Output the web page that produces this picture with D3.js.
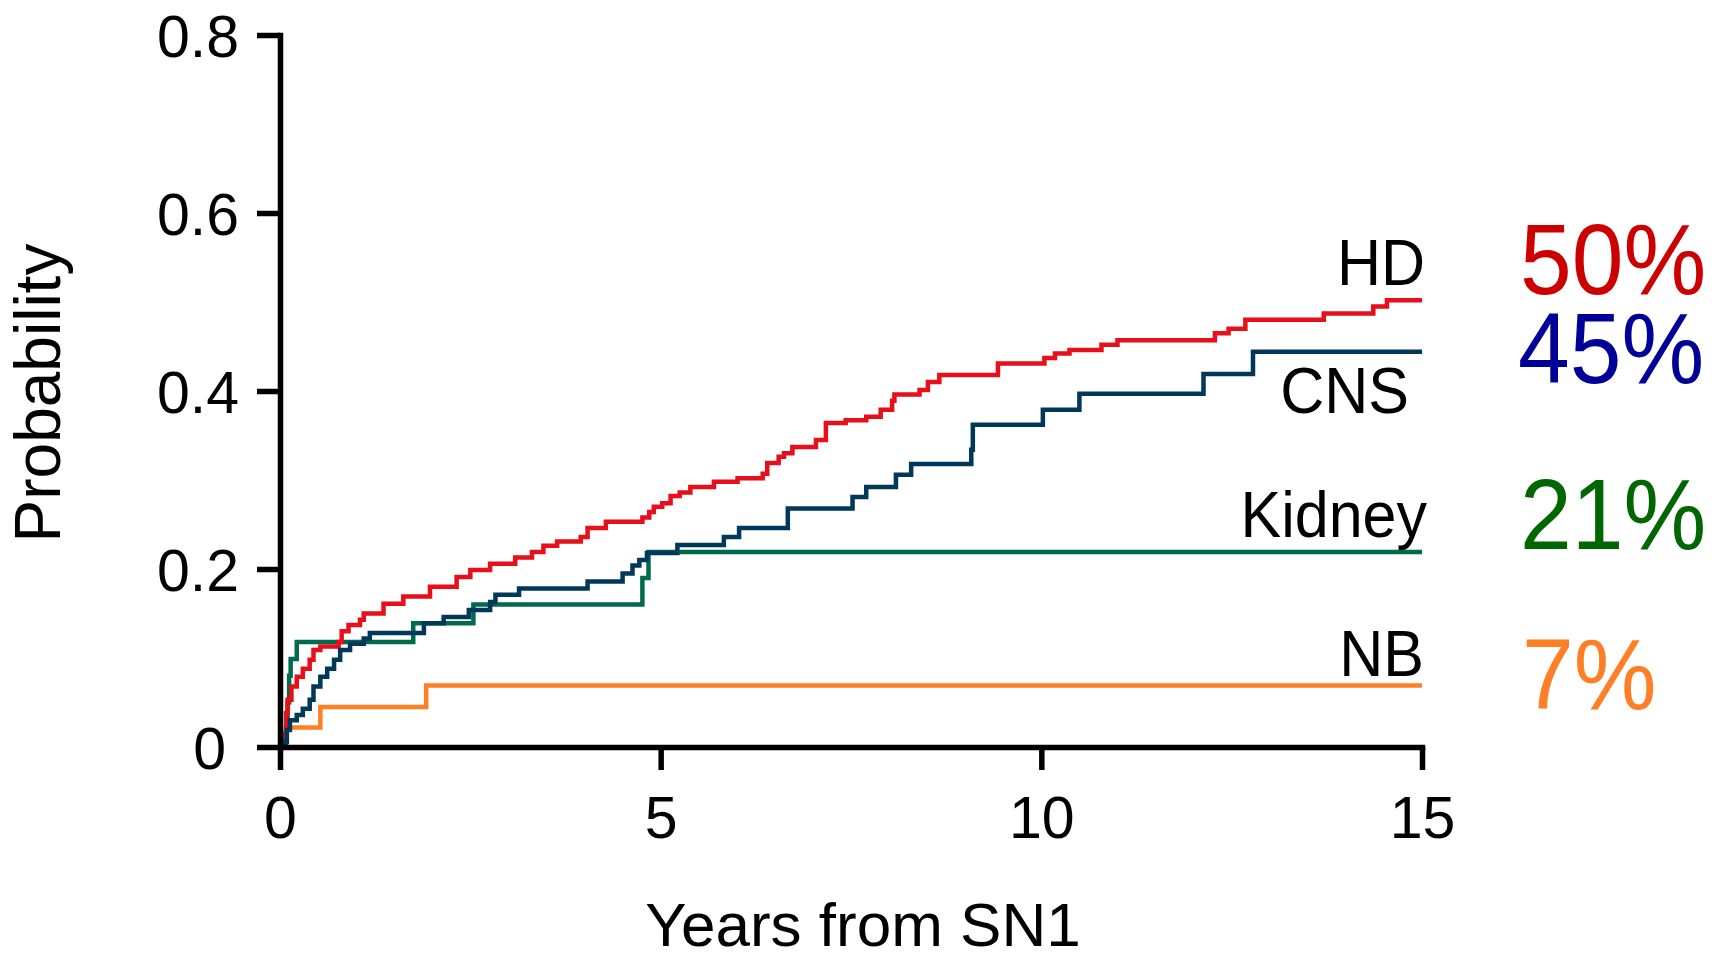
<!DOCTYPE html>
<html>
<head>
<meta charset="utf-8">
<script src="https://cdn.jsdelivr.net/npm/d3@7"></script>
<style>
  html, body { margin: 0; padding: 0; background: #fff; }
  svg { display: block; }
  text { font-family: "Liberation Sans", Arial, Helvetica, sans-serif; }
</style>
</head>
<body>
<svg id="chart" width="1726" height="955"></svg>
<script>
// ---- Data ----
const seriesNames = ["HD", "CNS", "Kidney", "NB"];
const finalLabels = ["50%", "45%", "21%", "7%"];

const hdTimes = [0, 0.06, 0.08, 0.10, 0.15, 0.22, 0.30, 0.39, 0.44, 0.53, 0.77, 0.81, 0.90, 1.05, 1.10, 1.36, 1.62, 1.97, 2.32, 2.50, 2.76, 3.09, 3.31, 3.46, 3.64, 3.95, 4.04, 4.28, 4.76, 4.85, 4.91, 5.02, 5.13, 5.25, 5.39, 5.70, 6.01, 6.34, 6.40, 6.55, 6.62, 6.73, 7.04, 7.17, 7.43, 7.70, 7.89, 8.04, 8.07, 8.40, 8.51, 8.66, 9.43, 10.04, 10.18, 10.37, 10.79, 11.00, 12.28, 12.46, 12.68, 13.71, 14.36, 14.54, 15];
const hdProbs = [0, 0.015, 0.038, 0.053, 0.068, 0.079, 0.088, 0.098, 0.109, 0.113, 0.118, 0.130, 0.137, 0.143, 0.150, 0.161, 0.169, 0.180, 0.191, 0.199, 0.206, 0.213, 0.219, 0.226, 0.231, 0.236, 0.246, 0.253, 0.258, 0.264, 0.270, 0.274, 0.282, 0.286, 0.292, 0.298, 0.302, 0.307, 0.319, 0.326, 0.330, 0.337, 0.345, 0.364, 0.367, 0.371, 0.379, 0.389, 0.396, 0.401, 0.410, 0.418, 0.431, 0.437, 0.442, 0.446, 0.452, 0.457, 0.465, 0.470, 0.480, 0.487, 0.495, 0.502, 0.502];

const cnsTimes = [0, 0.07, 0.09, 0.13, 0.22, 0.30, 0.39, 0.44, 0.53, 0.62, 0.71, 0.79, 0.92, 1.10, 1.18, 1.89, 2.15, 2.48, 2.76, 2.83, 3.14, 4.04, 4.50, 4.63, 4.72, 4.82, 5.22, 5.83, 6.03, 6.67, 7.52, 7.70, 8.09, 8.29, 9.08, 9.10, 10.02, 10.50, 12.13, 12.78, 15];
const cnsProbs = [0, 0.006, 0.019, 0.030, 0.036, 0.043, 0.053, 0.068, 0.079, 0.088, 0.098, 0.109, 0.116, 0.122, 0.128, 0.139, 0.146, 0.154, 0.163, 0.171, 0.178, 0.186, 0.195, 0.204, 0.210, 0.218, 0.227, 0.236, 0.246, 0.268, 0.281, 0.292, 0.306, 0.318, 0.334, 0.362, 0.379, 0.397, 0.419, 0.444, 0.444];

const kidneyTimes = [0, 0.08, 0.10, 0.12, 0.14, 0.22, 1.75, 2.54, 4.76, 4.84, 15];
const kidneyProbs = [0, 0.020, 0.050, 0.080, 0.099, 0.118, 0.139, 0.160, 0.190, 0.219, 0.219];

const nbTimes = [0, 0.08, 0.53, 1.92, 15];
const nbProbs = [0, 0.022, 0.045, 0.069, 0.069];

const xTicks = [0, 5, 10, 15];
const yTicks = [0, 0.2, 0.4, 0.6, 0.8];

// ---- Styles ----
const lineColors = { HD: "#e60f1a", CNS: "#003859", Kidney: "#006a4e", NB: "#ff7f24" };
const pctColors  = { HD: "#cc0000", CNS: "#000099", Kidney: "#006600", NB: "#ff7f27" };

const series = [
  { name: "NB", t: nbTimes, p: nbProbs },
  { name: "Kidney", t: kidneyTimes, p: kidneyProbs },
  { name: "HD", t: hdTimes, p: hdProbs },
  { name: "CNS", t: cnsTimes, p: cnsProbs }
];

const svg = d3.select("#chart");
const x = d3.scaleLinear().domain([0, 15]).range([280, 1422]);
const y = d3.scaleLinear().domain([0, 0.8]).range([747, 35]);

// ---- Curves ----
const line = d3.line().x(d => x(d[0])).y(d => y(d[1])).curve(d3.curveStepAfter);
series.forEach(s => {
  const pts = s.t.map((t, i) => [t, s.p[i]]);
  svg.append("path")
    .datum(pts)
    .attr("d", line)
    .attr("fill", "none")
    .attr("stroke", lineColors[s.name])
    .attr("stroke-width", 4.5)
    .attr("stroke-linejoin", "miter");
});

// ---- Axes ----
const xAxis = d3.axisBottom(x).tickValues(xTicks).tickSize(23).tickSizeOuter(0).tickPadding(26).tickFormat(d3.format("d"));
const yAxis = d3.axisLeft(y).tickValues(yTicks).tickSize(23).tickSizeOuter(0).tickPadding(18)
  .tickFormat(d => d === 0 ? "0" : d3.format(".1f")(d));

const gx = svg.append("g").attr("transform", `translate(0,${y(0)})`).call(xAxis);
const gy = svg.append("g").attr("transform", `translate(${x(0)},0)`).call(yAxis);

[gx, gy].forEach(g => {
  g.select(".domain").attr("stroke", "#000").attr("stroke-width", 5.5).attr("stroke-linecap", "square");
  g.selectAll(".tick line").attr("stroke", "#000").attr("stroke-width", 5.5);
  g.selectAll(".tick text").attr("fill", "#000").attr("font-size", 59)
    .attr("font-family", "'Liberation Sans', Arial, sans-serif");
});
gx.selectAll(".tick text").attr("dy", "0.71em");
gy.selectAll(".tick text").attr("dy", "0.36em");
gy.selectAll(".tick").filter(d => d === 0).select("text").attr("dx", -13);

// ---- Axis titles ----
svg.append("text")
  .attr("x", (x(0) + x(15)) / 2 + 12)
  .attr("y", 946)
  .attr("text-anchor", "middle")
  .attr("font-size", 62)
  .attr("fill", "#000")
  .text("Years from SN1");

svg.append("text")
  .attr("transform", `translate(60,${(y(0) + y(0.8)) / 2 + 2}) rotate(-90)`)
  .attr("text-anchor", "middle")
  .attr("font-size", 64)
  .attr("fill", "#000")
  .text("Probability");

// ---- Series labels & final percentages ----
const nameAnchor = { HD: [1425, 285], CNS: [1409, 413], Kidney: [1427, 537], NB: [1424, 676] };
const pctAnchor  = { HD: [1520, 294], CNS: [1518, 383], Kidney: [1520, 549], NB: [1522, 709] };

seriesNames.forEach((name, i) => {
  const [nx, ny] = nameAnchor[name];
  svg.append("text")
    .attr("transform", `translate(${nx},${ny}) scale(1,1.07)`)
    .attr("text-anchor", "end")
    .attr("font-size", 61)
    .attr("fill", "#000")
    .text(name);
  const [px, py] = pctAnchor[name];
  svg.append("text")
    .attr("transform", `translate(${px},${py}) scale(1,1.07)`)
    .attr("text-anchor", "start")
    .attr("font-size", 93)
    .attr("fill", pctColors[name])
    .text(finalLabels[i]);
});
</script>
</body>
</html>
